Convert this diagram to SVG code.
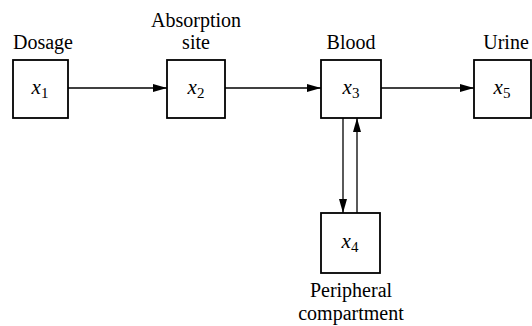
<svg xmlns="http://www.w3.org/2000/svg" width="532" height="326" viewBox="0 0 532 326">
<style>
.box{fill:#fff;stroke:#000;stroke-width:1.8}
.lbl{font-family:'Liberation Serif','Times New Roman',Times,'DejaVu Serif',serif;font-size:20px;fill:#000;text-anchor:middle}
.var{font-family:'Liberation Serif','Times New Roman',Times,'DejaVu Serif',serif;font-size:21px;font-style:italic;fill:#000;text-anchor:middle}
.sub{font-size:15px;font-style:normal}
.conn{stroke:#000;stroke-width:1.3;fill:none;marker-end:url(#ah)}
</style>
<defs>
<marker id="ah" viewBox="0 0 14 8" refX="14" refY="4" markerWidth="14" markerHeight="8" markerUnits="userSpaceOnUse" orient="auto">
<path d="M0,0 L14,4 L0,8 Z" fill="#000"/>
</marker>
</defs>
<rect width="532" height="326" fill="#fff"/>
<g id="connectors">
<line class="conn" x1="68" y1="88" x2="167" y2="88"/>
<line class="conn" x1="225" y1="88" x2="321" y2="88"/>
<line class="conn" x1="381" y1="88" x2="474" y2="88"/>
<line class="conn" x1="343" y1="118" x2="343" y2="213"/>
<line class="conn" x1="357" y1="213" x2="357" y2="118"/>
</g>
<g id="node-x1">
<text class="lbl" x="43" y="49">Dosage</text>
<rect class="box" x="13" y="60" width="55" height="58"/>
<text class="var" x="40" y="94">x<tspan class="sub" dy="4">1</tspan></text>
</g>
<g id="node-x2">
<text class="lbl" x="196" y="27">Absorption</text>
<text class="lbl" x="196" y="49">site</text>
<rect class="box" x="167" y="60" width="58" height="58"/>
<text class="var" x="196" y="94">x<tspan class="sub" dy="4">2</tspan></text>
</g>
<g id="node-x3">
<text class="lbl" x="351" y="49">Blood</text>
<rect class="box" x="321" y="60" width="60" height="58"/>
<text class="var" x="351" y="94">x<tspan class="sub" dy="4">3</tspan></text>
</g>
<g id="node-x4">
<rect class="box" x="321" y="213" width="59" height="60"/>
<text class="var" x="350" y="248">x<tspan class="sub" dy="4">4</tspan></text>
<text class="lbl" x="351" y="297">Peripheral</text>
<text class="lbl" x="351" y="320">compartment</text>
</g>
<g id="node-x5">
<text class="lbl" x="506" y="49">Urine</text>
<rect class="box" x="474" y="60" width="57" height="58"/>
<text class="var" x="502" y="94">x<tspan class="sub" dy="4">5</tspan></text>
</g>
</svg>
